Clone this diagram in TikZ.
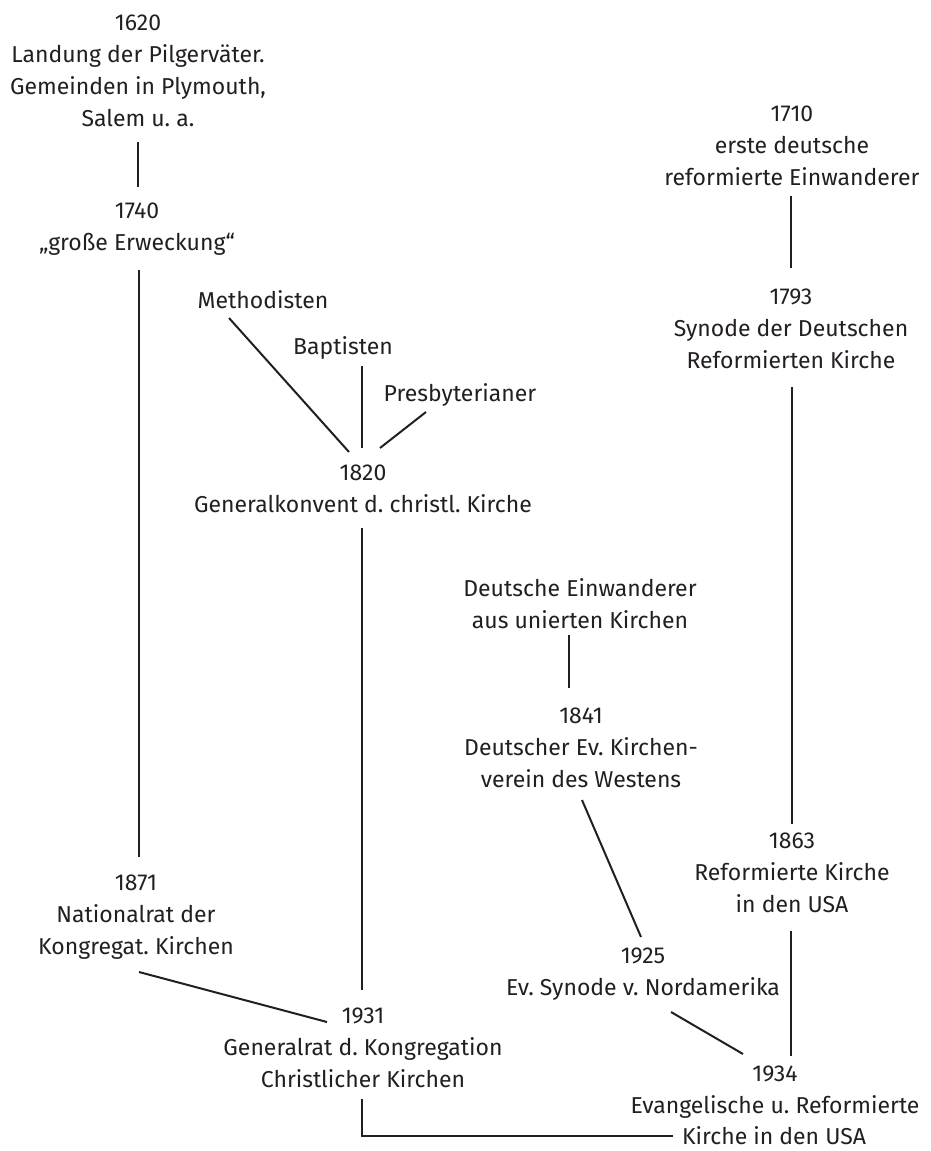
\documentclass[tikz,border=0pt]{standalone}
\usepackage{fontspec}
\setmainfont{Fira Sans}
\frenchspacing
\definecolor{ink}{HTML}{231F20}
\begin{document}
\begin{tikzpicture}[x=1pt,y=1pt,
  lbl/.style={align=center, inner sep=0pt, text=ink, font=\fontsize{23}{32}\selectfont},
  link/.style={draw=ink, line width=2pt}]
\useasboundingbox (0,0) rectangle (930,-1151);
% nodes (x, -y in reference pixels)
\node[lbl] (n1620) at (138,-71) {1620\\Landung der Pilgerväter.\\Gemeinden in Plymouth,\\Salem u. a.};
\node[lbl] (n1740) at (137,-229) {1740\\„große Erweckung“};
\node[lbl] (meth) at (263,-300) {Methodisten};
\node[lbl] (bapt) at (343,-348) {Baptisten};
\node[lbl] (presb) at (460,-395) {Presbyterianer};
\node[lbl] (n1820) at (363,-489) {1820\\Generalkonvent d. christl. Kirche};
\node[lbl] (n1710) at (792,-146) {1710\\erste deutsche\\reformierte Einwanderer};
\node[lbl] (n1793) at (791,-329) {1793\\Synode der Deutschen\\Reformierten Kirche};
\node[lbl] (nde) at (580,-604) {Deutsche Einwanderer\\aus unierten Kirchen};
\node[lbl] (n1841) at (581,-748) {1841\\Deutscher Ev. Kirchen-\\verein des Westens};
\node[lbl] (n1863) at (792,-873) {1863\\Reformierte Kirche\\in den USA};
\node[lbl] (n1871) at (136,-917) {1871\\Nationalrat der\\Kongregat. Kirchen};
\node[lbl] (n1925) at (643,-974) {1925\\Ev. Synode v. Nordamerika};
\node[lbl] (n1931) at (363,-1048) {1931\\Generalrat d. Kongregation\\Christlicher Kirchen};
\node[lbl] (n1934) at (775,-1092) {1934\\Evangelische u. Reformierte};
\node[lbl] (n1934k) at (774,-1136) {Kirche in den USA};
% connectors
\path[link] ([shift={(0,-71)}]n1620.center) -- ([shift={(1,42)}]n1740.center);
\path[link] ([shift={(2,-41)}]n1740.center) -- ([shift={(3,60)}]n1871.center);
\path[link] ([shift={(-34,-18)}]meth.center) -- ([shift={(-14,37)}]n1820.center);
\path[link] ([shift={(19,-18)}]bapt.center) -- ([shift={(-1,41)}]n1820.center);
\path[link] ([shift={(-34,-17)}]presb.center) -- ([shift={(17,41)}]n1820.center);
\path[link] ([shift={(-1,-39)}]n1820.center) -- ([shift={(-1,58)}]n1931.center);
\path[link] ([shift={(-1,-50)}]n1710.center) -- ([shift={(0,61)}]n1793.center);
\path[link] ([shift={(1,-58)}]n1793.center) -- ([shift={(0,49)}]n1863.center);
\path[link] ([shift={(-11,-31)}]nde.center) -- ([shift={(-12,60)}]n1841.center);
\path[link] ([shift={(1,-52)}]n1841.center) -- ([shift={(-2,37)}]n1925.center);
\path[link] ([shift={(-1,-58)}]n1863.center) -- ([shift={(16,36)}]n1934.center);
\path[link] ([shift={(3,-55)}]n1871.center) -- ([shift={(-36,26)}]n1931.center);
\path[link] ([shift={(28,-38)}]n1925.center) -- ([shift={(-32,38)}]n1934.center);
\path[link] ([shift={(-1,-51)}]n1931.center) |- ([xshift=-9pt]n1934k.west);
\end{tikzpicture}
\end{document}
